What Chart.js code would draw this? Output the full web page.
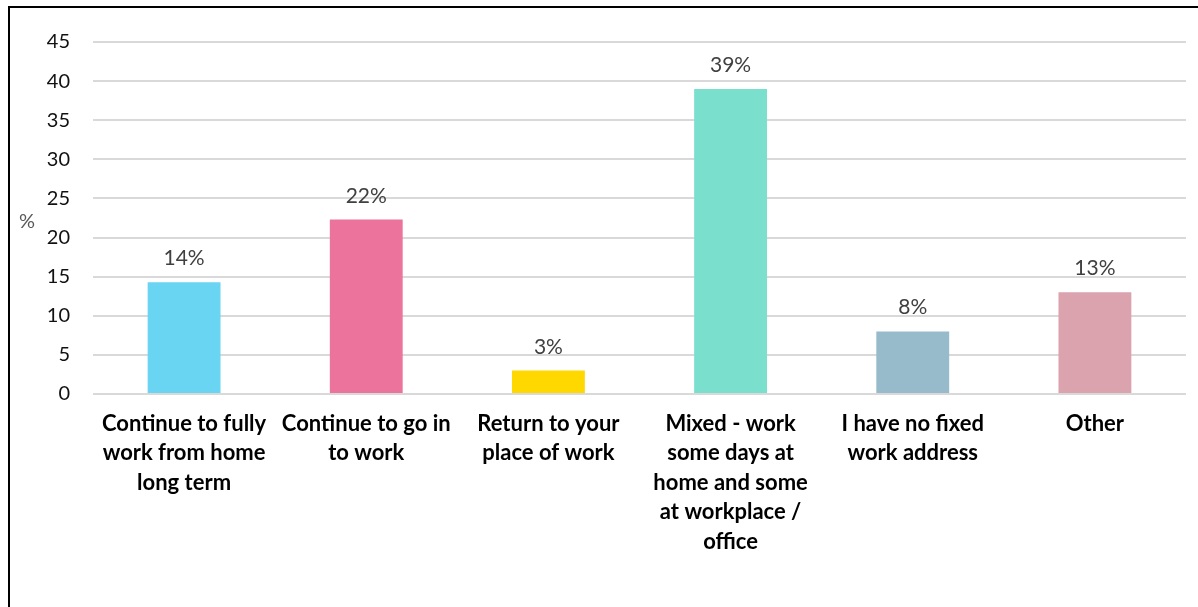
<!DOCTYPE html>
<html>
<head>
<meta charset="utf-8">
<script src="https://cdn.jsdelivr.net/npm/chart.js@4.4.1/dist/chart.umd.min.js"></script>
<style>
  html, body { margin: 0; padding: 0; background: #fff; }
  body { width: 1198px; height: 607px; overflow: hidden; position: relative; }
  #frame {
    position: absolute; left: 8px; top: 6px; width: 1220px; height: 640px;
    border-left: 2px solid #000; border-top: 2px solid #000; box-sizing: border-box;
  }
  #wrap { position: absolute; left: 0; top: 0; width: 1198px; height: 607px; }
</style>
</head>
<body>
<div id="frame"></div>
<div id="wrap"><canvas id="chart" width="1198" height="607"></canvas></div>
<script>
// Survey answers: plans for where people will work
const categories = [
  ["Continue to fully", "work from home", "long term"],
  ["Continue to go in", "to work"],
  ["Return to your", "place of work"],
  ["Mixed - work", "some days at", "home and some", "at workplace /", "office"],
  ["I have no fixed", "work address"],
  ["Other"]
];
const percentages = [14.3, 22.3, 3.0, 39.0, 8.0, 13.0];
const barColors = ["#6AD5F2", "#EC739B", "#FFD800", "#7ADFCD", "#97BBCA", "#DBA3AE"];
const yTicks = [0, 5, 10, 15, 20, 25, 30, 35, 40, 45];
const axisTitle = "%";

const FONT = "Lato, 'Open Sans', sans-serif";

// Value labels above each bar, plus the horizontal "%" axis title
const annotate = {
  id: "annotate",
  afterDatasetsDraw(chart) {
    const ctx = chart.ctx;
    const meta = chart.getDatasetMeta(0);
    ctx.save();
    ctx.font = "21px " + FONT;
    ctx.fillStyle = "#404040";
    ctx.textAlign = "center";
    ctx.textBaseline = "alphabetic";
    meta.data.forEach((bar, i) => {
      ctx.fillText(Math.round(percentages[i]) + "%", bar.x, bar.y - 17);
    });
    const area = chart.chartArea;
    ctx.font = "20px " + FONT;
    ctx.fillStyle = "#595959";
    ctx.textBaseline = "middle";
    ctx.fillText(axisTitle, 27, (area.top + area.bottom) / 2 + 4);
    ctx.restore();
  }
};

new Chart(document.getElementById("chart"), {
  type: "bar",
  data: {
    labels: categories,
    datasets: [{
      data: percentages,
      backgroundColor: barColors,
      borderWidth: 0,
      categoryPercentage: 1.0,
      barPercentage: 0.4
    }]
  },
  options: {
    responsive: false,
    animation: false,
    devicePixelRatio: 1,
    layout: { padding: { left: 0, right: 12, top: 42, bottom: 0 } },
    plugins: { legend: { display: false }, tooltip: { enabled: false } },
    scales: {
      x: {
        grid: { display: false, drawTicks: false },
        border: { display: false },
        ticks: {
          color: "#000",
          font: { family: FONT, size: 22, weight: "bold", lineHeight: 1.34 },
          padding: 15,
          maxRotation: 0,
          autoSkip: false
        },
        afterFit(scale) { scale.height = 213; }
      },
      y: {
        min: 0,
        max: 45,
        afterBuildTicks(scale) { scale.ticks = yTicks.map(v => ({ value: v })); },
        grid: { color: "#d9d9d9", lineWidth: 2, drawTicks: false },
        border: { display: false },
        ticks: {
          color: "#111",
          font: { family: FONT, size: 20 },
          padding: 23
        },
        afterFit(scale) { scale.width = 93; }
      }
    }
  },
  plugins: [annotate]
});
</script>
</body>
</html>
